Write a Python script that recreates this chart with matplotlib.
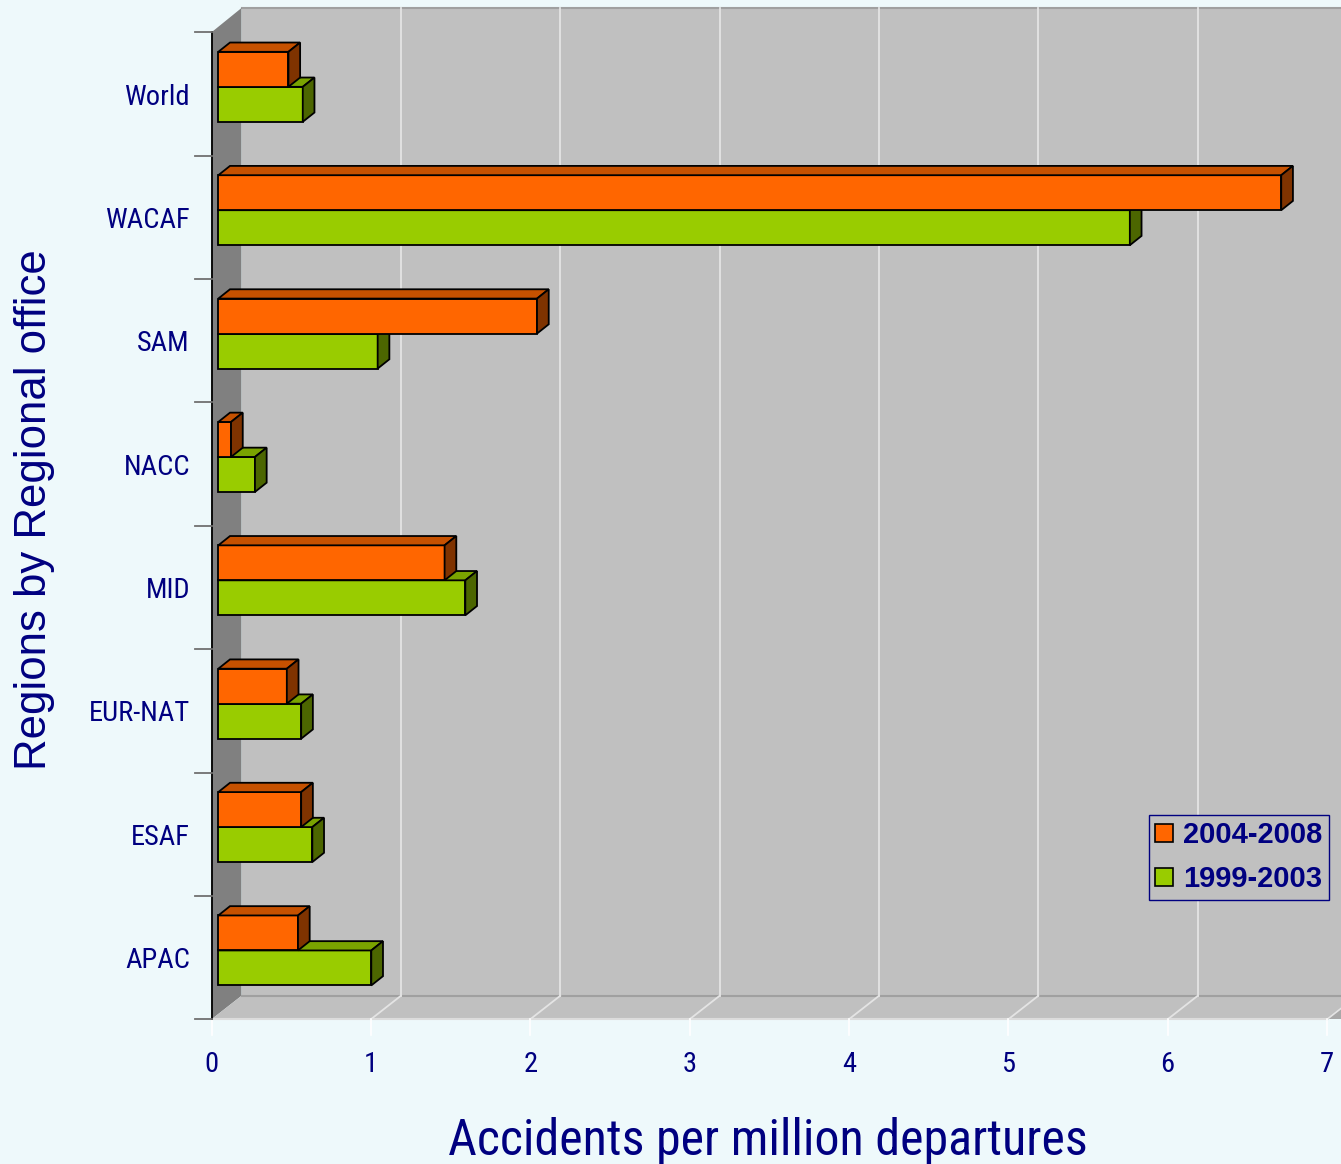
import matplotlib
matplotlib.use("Agg")
import matplotlib.pyplot as plt
from matplotlib.patches import Polygon, Rectangle, Patch
from matplotlib import font_manager as fm

# ---------------- data ----------------
regions = ["World", "WACAF", "SAM", "NACC", "MID", "EUR-NAT", "ESAF", "APAC"]   # top -> bottom
rate_2004_2008 = [0.44, 6.67, 2.00, 0.08, 1.42, 0.43, 0.52, 0.50]
rate_1999_2003 = [0.53, 5.72, 1.00, 0.23, 1.55, 0.52, 0.59, 0.96]
series_labels = ["2004-2008", "1999-2003"]
x_ticks = [0, 1, 2, 3, 4, 5, 6, 7]
x_title = "Accidents per million departures"
y_title = "Regions by Regional office"

# ---------------- style ----------------
BG = "#EEF9FB"
NAVY = "#000080"
WALL = "#C0C0C0"
SIDEWALL = "#808080"
GRID = "#E4E4E4"
OR_FRONT, OR_TOP, OR_SIDE = "#FF6600", "#C65100", "#7F3300"
GR_FRONT, GR_TOP, GR_SIDE = "#99CC00", "#7AA300", "#4C6600"

def pick(names):
    for n in names:
        try:
            fm.findfont(fm.FontProperties(family=n), fallback_to_default=False)
            return n
        except Exception:
            pass
    return "DejaVu Sans"

NARROW = pick(["Liberation Sans Narrow", "Arial Narrow", "Roboto Condensed", "DejaVu Sans Condensed"])
SANS = pick(["Liberation Sans", "Arial", "DejaVu Sans"])
NW = "normal"

W, H = 1341, 1164
fig = plt.figure(figsize=(W / 100, H / 100), dpi=100, facecolor=BG)
ax = fig.add_axes([0, 0, 1, 1])
ax.set_facecolor(BG)
ax.axis("off")

# pixel calibration of the front axes
PX0, SX = 211.5, 159.36
PY0, SY = 1019.3, 123.375
ax.set_xlim(-PX0 / SX, (W - PX0) / SX)
ax.set_ylim((PY0 - H) / SY, PY0 / SY)

XMAX = x_ticks[-1]
NCAT = len(regions)
DX, DY = 30 / SX, 23.5 / SY          # wall depth
TOP = (PY0 - 8) / SY                  # back-wall top

# back wall
ax.add_patch(Rectangle((DX, DY), XMAX + 1, TOP - DY, fc=WALL, ec="none", zorder=1))
ax.plot([DX, XMAX + 1], [TOP, TOP], color="#A0A0A0", lw=1.5, zorder=2)
# left wall
ax.add_patch(Polygon([(0, 0), (DX, DY), (DX, TOP), (0, NCAT)], closed=True,
                     fc=SIDEWALL, ec="none", zorder=2))
# floor
ax.add_patch(Polygon([(0, 0), (XMAX, 0), (XMAX + DX, DY), (DX, DY)], closed=True,
                     fc=WALL, ec="none", zorder=2))
ax.add_patch(Polygon([(XMAX, 0), (XMAX + 1, 0), (XMAX + 1, DY), (XMAX + DX, DY)], closed=True,
                     fc="#A8A8A8", ec="none", zorder=2))
ax.plot([DX, XMAX + 1], [DY, DY], color="#A0A0A0", lw=1.5, zorder=3)
ax.plot([0, XMAX], [0, 0], color="#DCDCDC", lw=1.5, zorder=3)
ax.plot([XMAX, XMAX + DX], [0, DY], color="#A0A0A0", lw=1.2, zorder=3)

# gridlines (back wall + floor) and x ticks
for k in x_ticks[1:]:
    ax.plot([DX + k, DX + k], [DY, TOP], color=GRID, lw=1.3, zorder=3)
    ax.plot([k, k + DX], [0, DY], color=GRID, lw=1.3, zorder=3)
for k in x_ticks:
    ax.plot([k, k], [0, -16 / SY], color="#FFFFFF", lw=1.2, zorder=3)
    ax.text(k, (PY0 - 1064) / SY, str(k), ha="center", va="center",
            fontsize=20.5, family=NARROW, weight=NW, color=NAVY)

# y axis
ax.plot([0, 0], [0, NCAT], color="black", lw=1.3, zorder=4)
for j in range(NCAT + 1):
    ax.plot([-17 / SX, 0], [j, j], color="#707070", lw=1.3, zorder=4)

# bars
FX = 6.8 / SX
BH = 35 / SY
BX, BY = 11.7 / SX, 9.3 / SY
COFF = 0.058

def bar3d(x0, y0, v, front, top, side):
    x1, y1 = x0 + v, y0 + BH
    kw = dict(ec="black", lw=1.3, joinstyle="miter", zorder=6)
    ax.add_patch(Rectangle((x0, y0), v, BH, fc=front, **kw))
    ax.add_patch(Polygon([(x0, y1), (x1, y1), (x1 + BX, y1 + BY), (x0 + BX, y1 + BY)],
                         closed=True, fc=top, **kw))
    ax.add_patch(Polygon([(x1, y0), (x1 + BX, y0 + BY), (x1 + BX, y1 + BY), (x1, y1)],
                         closed=True, fc=side, **kw))

for idx, (name, a, b) in enumerate(zip(regions, rate_2004_2008, rate_1999_2003)):
    i = NCAT - 1 - idx
    c = i + 0.5 + COFF
    bar3d(FX, c - BH, b, GR_FRONT, GR_TOP, GR_SIDE)
    bar3d(FX, c, a, OR_FRONT, OR_TOP, OR_SIDE)
    ax.text((190 - PX0) / SX, i + 0.475, name, ha="right", va="center",
            fontsize=20.5, family=NARROW, weight=NW, color=NAVY)

# titles
ax.text((768 - PX0) / SX, (PY0 - 1155) / SY, x_title, ha="center", va="baseline",
        fontsize=36, family=NARROW, weight=NW, color=NAVY)
ax.text((34 - PX0) / SX, (PY0 - 510) / SY, y_title, ha="center", va="center",
        rotation=90, fontsize=31.5, family=SANS, color=NAVY)

# legend
handles = [Patch(fc=OR_FRONT, ec="black", lw=1.2), Patch(fc=GR_FRONT, ec="black", lw=1.2)]
leg = ax.legend(handles, series_labels, loc="upper left",
                bbox_to_anchor=(1149 / W, 1 - 815 / H), bbox_transform=fig.transFigure,
                prop=dict(family=SANS, weight="bold", size=21), labelcolor=NAVY,
                facecolor=WALL, edgecolor=NAVY, framealpha=1, fancybox=False,
                handlelength=0.6, handleheight=0.6, handletextpad=0.35,
                borderpad=0.22, labelspacing=0.55, borderaxespad=0)
leg.get_frame().set_linewidth(1.0)
leg.set_zorder(10)

fig.savefig("out.png", dpi=100, facecolor=BG)
